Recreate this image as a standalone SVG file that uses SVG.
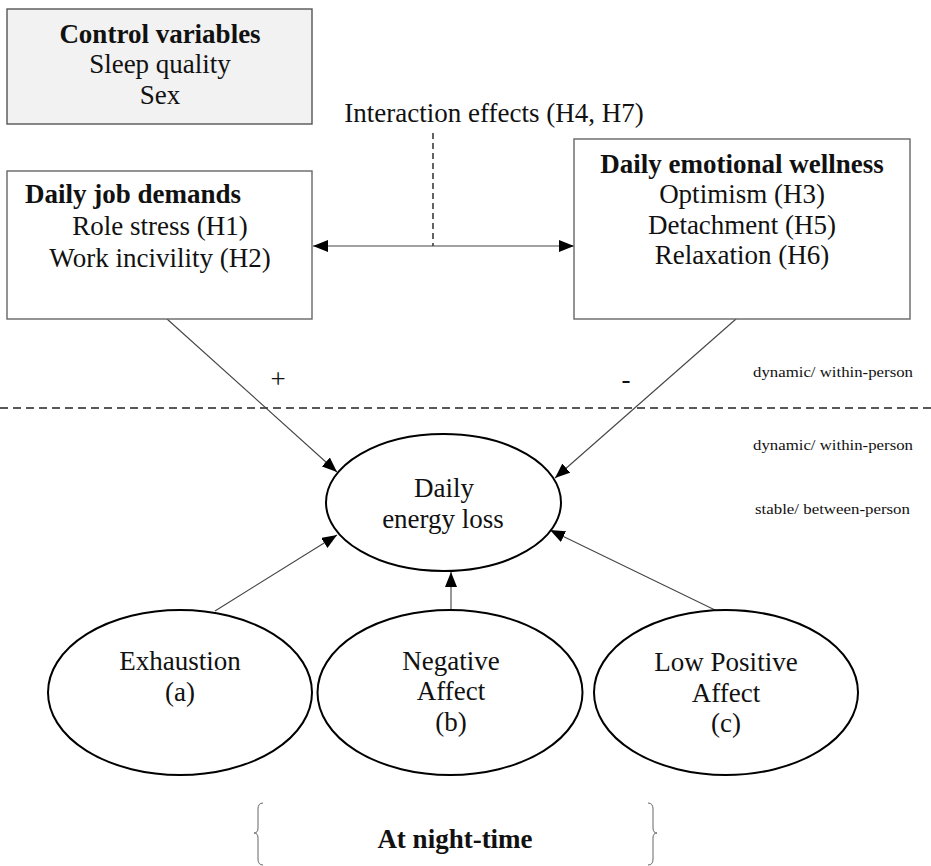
<svg xmlns="http://www.w3.org/2000/svg" width="931" height="866" viewBox="0 0 931 866">
<style>
text{font-family:"Liberation Serif","Times New Roman",serif;fill:#111;font-size:27px}
.b{font-weight:bold}
.m{text-anchor:middle}
.box{fill:#fff;stroke:#666;stroke-width:1.4}
.ell{fill:#fff;stroke:#000;stroke-width:2}
.con{stroke:#444;stroke-width:1.1;fill:none}
.dash{stroke:#222;stroke-width:1.4;stroke-dasharray:8 5;fill:none}
.sm{font-size:14px}
.brace{stroke:#666;stroke-width:1;fill:none}
</style>
<defs>
<marker id="ah" markerWidth="15" markerHeight="12" refX="15" refY="6" orient="auto-start-reverse" markerUnits="userSpaceOnUse"><path d="M0,0 L15,6 L0,12 z" fill="#000"/></marker>
</defs>
<rect width="931" height="866" fill="#fff"/>
<g id="connectors">
<line class="dash" x1="0" y1="408" x2="931" y2="408"/>
<line class="dash" x1="433" y1="133" x2="433" y2="246" stroke-width="1.2" style="stroke-dasharray:6 4"/>
<line class="con" x1="313" y1="246" x2="574" y2="246" marker-start="url(#ah)" marker-end="url(#ah)"/>
<line class="con" x1="167" y1="319" x2="337" y2="472" marker-end="url(#ah)"/>
<line class="con" x1="736" y1="319" x2="555" y2="478" marker-end="url(#ah)"/>
<line class="con" x1="215" y1="611" x2="337" y2="535" marker-end="url(#ah)"/>
<line class="con" x1="451" y1="609" x2="451" y2="572" marker-end="url(#ah)"/>
<line class="con" x1="715" y1="610" x2="550" y2="530" marker-end="url(#ah)"/>
</g>
<g id="control">
<rect x="7" y="9" width="305" height="115" fill="#f2f2f2" stroke="#555" stroke-width="1.4"/>
<text class="b m" x="160" y="43">Control variables</text>
<text class="m" x="160" y="73">Sleep quality</text>
<text class="m" x="160" y="104">Sex</text>
</g>
<g id="interaction">
<text class="m" x="494" y="122">Interaction effects (H4, H7)</text>
</g>
<g id="jobdemands">
<rect class="box" x="7" y="171" width="305" height="148"/>
<text class="b" x="25" y="203">Daily job demands</text>
<text class="m" x="160" y="235">Role stress (H1)</text>
<text class="m" x="160" y="267">Work incivility (H2)</text>
</g>
<g id="wellness">
<rect class="box" x="574" y="139" width="336" height="180"/>
<text class="b m" x="742" y="173">Daily emotional wellness</text>
<text class="m" x="742" y="203">Optimism (H3)</text>
<text class="m" x="742" y="234">Detachment (H5)</text>
<text class="m" x="742" y="264">Relaxation (H6)</text>
</g>
<g id="signs">
<text class="m" x="278" y="388" font-size="20">+</text>
<text class="m" x="626" y="388" font-size="20">-</text>
</g>
<g id="levels">
<text class="sm" x="753" y="377" textLength="160" lengthAdjust="spacingAndGlyphs">dynamic/ within-person</text>
<text class="sm" x="753" y="450" textLength="160" lengthAdjust="spacingAndGlyphs">dynamic/ within-person</text>
<text class="sm" x="755" y="514" textLength="155" lengthAdjust="spacingAndGlyphs">stable/ between-person</text>
</g>
<g id="energyloss">
<ellipse class="ell" cx="443.5" cy="502.5" rx="117.5" ry="68.5"/>
<text class="m" x="444" y="497">Daily</text>
<text class="m" x="443" y="528">energy loss</text>
</g>
<g id="exhaustion">
<ellipse class="ell" cx="180" cy="692.5" rx="132" ry="82.5"/>
<text class="m" x="180" y="670">Exhaustion</text>
<text class="m" x="180" y="701">(a)</text>
</g>
<g id="negaffect">
<ellipse class="ell" cx="450" cy="692.5" rx="132.5" ry="82.5"/>
<text class="m" x="451" y="670">Negative</text>
<text class="m" x="451" y="700">Affect</text>
<text class="m" x="451" y="731">(b)</text>
</g>
<g id="lowposaffect">
<ellipse class="ell" cx="726" cy="692.5" rx="132" ry="82.5"/>
<text class="m" x="726" y="671">Low Positive</text>
<text class="m" x="726" y="702">Affect</text>
<text class="m" x="726" y="732">(c)</text>
</g>
<g id="nighttime">
<path class="brace" d="M263,803 Q258,803 258,809 L258,828 Q258,833 254,833 Q258,833 258,838 L258,859 Q258,865 263,865"/>
<path class="brace" d="M648,803 Q653,803 653,809 L653,828 Q653,833 657,833 Q653,833 653,838 L653,859 Q653,865 648,865"/>
<text class="b m" x="455" y="848">At night-time</text>
</g>
</svg>
